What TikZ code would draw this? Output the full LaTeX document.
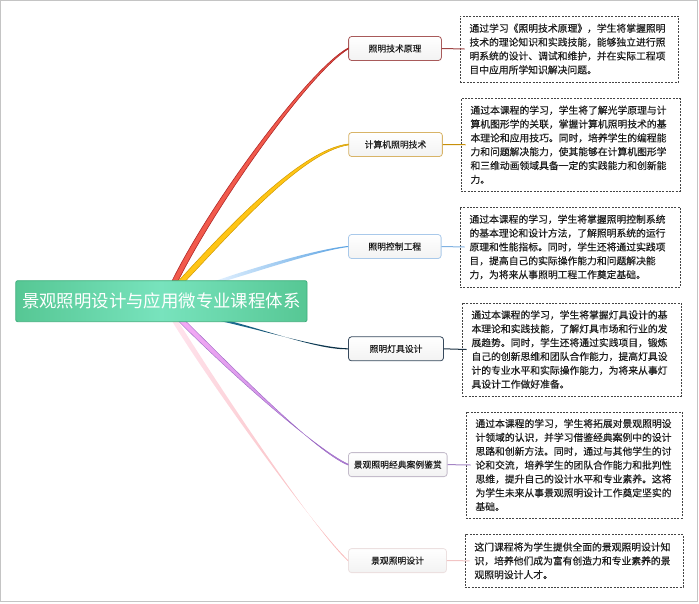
\documentclass[tikz,border=0pt]{standalone}
\usepackage{fontspec}
\setmainfont{Noto Sans CJK SC}
\newfontfamily\heavyfont{Noto Sans CJK SC}[FakeBold=0.3]
\usetikzlibrary{calc}
\definecolor{frame}{HTML}{C4C4C4}
\definecolor{rootA}{HTML}{56C794}
\definecolor{rootB}{HTML}{78E3BD}
\definecolor{rootE}{HTML}{3FAE7C}
\definecolor{redF}{HTML}{F25A4C}
\definecolor{redE}{HTML}{B02828}
\definecolor{goldF}{HTML}{FFC515}
\definecolor{goldE}{HTML}{D09A00}
\definecolor{blueA}{HTML}{E2F1FF}
\definecolor{blueB}{HTML}{5AA2E2}
\definecolor{navyA}{HTML}{1D7098}
\definecolor{navyB}{HTML}{0A2A3E}
\definecolor{purA}{HTML}{F6AAF6}
\definecolor{purB}{HTML}{B584DC}
\definecolor{purE}{HTML}{9C6CC4}
\definecolor{pinkA}{HTML}{FFE4EE}
\definecolor{pinkB}{HTML}{F8B6B6}
\definecolor{c1}{HTML}{A85A5A}
\definecolor{c2}{HTML}{D8B468}
\definecolor{c3}{HTML}{A9C9EA}
\definecolor{c4}{HTML}{36495C}
\definecolor{c5}{HTML}{C4BCCB}
\definecolor{c6}{HTML}{ECE0E0}
\definecolor{l1}{HTML}{A04545}
\definecolor{l2}{HTML}{C8900A}
\definecolor{l3}{HTML}{80B2E2}
\definecolor{l4}{HTML}{1A3042}
\definecolor{l5}{HTML}{A585C5}
\definecolor{l6}{HTML}{F2C4C4}
\definecolor{txt}{HTML}{1E1E1E}
\definecolor{dash}{HTML}{444444}
\begin{document}
\begin{tikzpicture}[x=1pt,y=-1pt,
  rootbox/.style={rounded corners=2pt, draw=rootE, line width=0.8pt,
    left color=rootA, right color=rootA, middle color=rootB,
    minimum width=291.3pt, minimum height=41pt, inner sep=0pt,
    text=white, font=\fontsize{17.4pt}{20pt}\selectfont},
  branch/.style={rounded corners=3pt, line width=0.8pt,
    top color=white, bottom color=black!5,
    minimum height=24pt, inner sep=0pt, text=txt,
    font=\heavyfont\fontsize{8.8pt}{10pt}\selectfont},
  descbox/.style={draw=dash, dash pattern=on 2pt off 1.3pt, line width=0.9pt,
    fill=white, inner xsep=9.5pt, inner ysep=0pt, align=left, text=txt,
    font=\heavyfont\fontsize{9.8pt}{13.85pt}\selectfont},
  link/.style={line width=1pt}
]
\useasboundingbox (0,0) rectangle (699,603);
\draw[frame, line width=1.3pt] (0.7,0.7) rectangle (697.5,601.5);

% branch nodes
\node[branch, draw=c1, minimum width=92.8pt] (b1) at (395,48.5) {照明技术原理};
\node[branch, draw=c2, minimum width=93.7pt] (b2) at (395.5,144.5) {计算机照明技术};
\node[branch, draw=c3, minimum width=92.6pt] (b3) at (394.8,246.5) {照明控制工程};
\node[branch, draw=c4, minimum width=95pt] (b4) at (396,348.8) {照明灯具设计};
\node[branch, draw=c5, minimum width=98.6pt] (b5) at (397.8,464.6) {景观照明经典案例鉴赏};
\node[branch, draw=c6, minimum width=98pt] (b6) at (397.5,560.6) {景观照明设计};

% start points on the root
\coordinate (s1) at (175,281);
\coordinate (s2) at (182,281);
\coordinate (s3) at (220,281);
\coordinate (s4) at (225,321);
\coordinate (s5) at (182,321);
\coordinate (s6) at (175,321);

% tapered branches
\filldraw[fill=redF, draw=redE, line width=0.6pt]
  ($(s1)+(-3,0)$) .. controls +(40,-81) and +(-38.6,21) .. ($(b1.west)+(0,-0.5)$)
  -- ($(b1.west)+(0,0.5)$) .. controls +(-37,22) and +(40,-80) .. ($(s1)+(3,0)$) -- cycle;
\filldraw[fill=goldF, draw=goldE, line width=0.5pt]
  ($(s2)+(-3.5,0)$) .. controls +(43,-47) and +(-48.6,5.5) .. ($(b2.west)+(0,-0.5)$)
  -- ($(b2.west)+(0,0.5)$) .. controls +(-47,7) and +(43,-45) .. ($(s2)+(3.5,0)$) -- cycle;
\shade[left color=blueA, right color=blueB]
  ($(s3)+(-5,0)$) .. controls +(40,-14) and +(-28,2.5) .. ($(b3.west)+(0,-0.5)$)
  -- ($(b3.west)+(0,0.5)$) .. controls +(-28,3.5) and +(40,-12) .. ($(s3)+(5,0)$) -- cycle;
\shade[left color=navyA, right color=navyB]
  ($(s4)+(-5,0)$) .. controls +(45,10) and +(-28.6,-0.5) .. ($(b4.west)+(0,-0.5)$)
  -- ($(b4.west)+(0,0.5)$) .. controls +(-28.6,0.5) and +(45,12) .. ($(s4)+(5,0)$) -- cycle;
\shadedraw[left color=purA, right color=purB, draw=purE, line width=0.4pt]
  ($(s5)+(-3.5,0)$) .. controls +(43,44) and +(-33.6,-15.5) .. ($(b5.west)+(0,-0.5)$)
  -- ($(b5.west)+(0,0.5)$) .. controls +(-33.6,-13.5) and +(43,42) .. ($(s5)+(3.5,0)$) -- cycle;
\shade[left color=pinkA, right color=pinkB]
  ($(s6)+(-3,0)$) .. controls +(35,58) and +(-33.6,-32) .. ($(b6.west)+(0,-0.5)$)
  -- ($(b6.west)+(0,0.5)$) .. controls +(-33.6,-30) and +(35,56) .. ($(s6)+(3,0)$) -- cycle;

% root
\node[rootbox] (root) at (161.4,301.2) {景观照明设计与应用微专业课程体系};

% description boxes
\node[descbox, text width=199.5pt, minimum height=66pt] (t1) at (569.25,49) {%
通过学习《照明技术原理》，学生将掌握照明\\
技术的理论知识和实践技能，能够独立进行照\\
明系统的设计、调试和维护，并在实际工程项\\
目中应用所学知识解决问题。};
\node[descbox, text width=200pt, minimum height=92.5pt] (t2) at (570.5,144.75) {%
通过本课程的学习，学生将了解光学原理与计\\
算机图形学的关联，掌握计算机照明技术的基\\
本理论和应用技巧。同时，培养学生的编程能\\
力和问题解决能力，使其能够在计算机图形学\\
和三维动画领域具备一定的实践能力和创新能\\
力。};
\node[descbox, text width=201pt, minimum height=80pt] (t3) at (570,247) {%
通过本课程的学习，学生将掌握照明控制系统\\
的基本理论和设计方法，了解照明系统的运行\\
原理和性能指标。同时，学生还将通过实践项\\
目，提高自己的实际操作能力和问题解决能\\
力，为将来从事照明工程工作奠定基础。};
\node[descbox, text width=200pt, minimum height=93pt] (t4) at (571.5,349.5) {%
通过本课程的学习，学生将掌握灯具设计的基\\
本理论和实践技能，了解灯具市场和行业的发\\
展趋势。同时，学生还将通过实践项目，锻炼\\
自己的创新思维和团队合作能力，提高灯具设\\
计的专业水平和实际操作能力，为将来从事灯\\
具设计工作做好准备。};
\node[descbox, text width=197pt, minimum height=106pt] (t5) at (574,465) {%
通过本课程的学习，学生将拓展对景观照明设\\
计领域的认识，并学习借鉴经典案例中的设计\\
思路和创新方法。同时，通过与其他学生的讨\\
论和交流，培养学生的团队合作能力和批判性\\
思维，提升自己的设计水平和专业素养。这将\\
为学生未来从事景观照明设计工作奠定坚实的\\
基础。};
\node[descbox, text width=199pt, minimum height=52.4pt] (t6) at (574,560.8) {%
这门课程将为学生提供全面的景观照明设计知\\
识，培养他们成为富有创造力和专业素养的景\\
观照明设计人才。};

% links from branches to boxes
\draw[link, l1] (b1.east) -- ([xshift=5pt]t1.west);
\draw[link, l2] (b2.east) -- ([xshift=5pt]t2.west);
\draw[link, l3] (b3.east) -- ([xshift=5pt]t3.west);
\draw[link, l4] (b4.east) -- ([xshift=5pt]t4.west);
\draw[link, l5] (b5.east) -- ([xshift=5pt]t5.west);
\draw[link, l6] (b6.east) -- ([xshift=5pt]t6.west);
\end{tikzpicture}
\end{document}
